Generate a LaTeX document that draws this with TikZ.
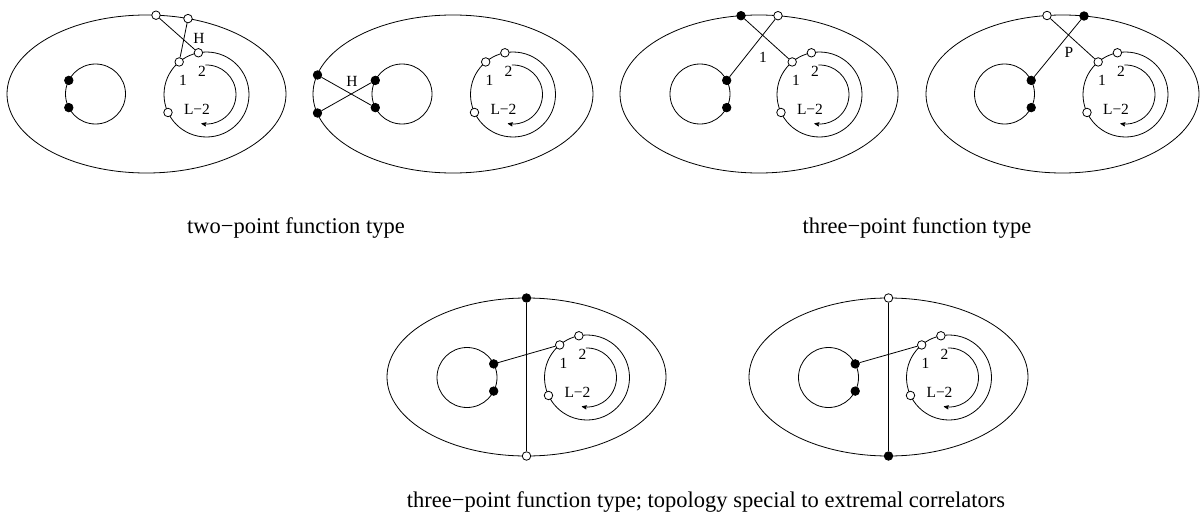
\documentclass[tikz,border=0pt]{standalone}
\usepackage{fontspec}
\setmainfont{Liberation Serif}
\usepackage{tikz}
\usetikzlibrary{shapes,arrows}
\usetikzlibrary{calc}
\tikzstyle{wdot} = [draw, fill=white, circle, inner sep=0pt, minimum size=8.5pt]
\tikzstyle{bdot} = [draw, fill=black, circle, inner sep=0pt, minimum size=8.5pt]
\tikzstyle{lbl} = [font=\fontsize{15.5}{17}\selectfont, inner sep=0pt]
\tikzstyle{caption} = [font=\fontsize{22.5}{26}\selectfont, inner sep=0pt]

\begin{document}
\begin{tikzpicture}[x=1pt, y=1pt, >=stealth', line width=0.8pt]
    \useasboundingbox (0,0) rectangle (1200,-514);
    % two-point, first
    \draw (146.5,-94) ellipse (139.5 and 79);
    \draw (95.5,-94) circle (30);
    \coordinate (ra) at (206.5,-94.5);
    \draw (ra) circle (42.5);
    \draw [->] ($(ra)+(92:29.5)$) arc (92:-100:29.5);
    \node [bdot] (aup) at (68.8,-80.4) {};
    \node [bdot] (adn) at (68.8,-107.6) {};
    \node [wdot] (a1) at ($(ra)+(130:42.5)$) {};
    \node [wdot] (a2) at ($(ra)+(101:42.5)$) {};
    \node [wdot] (aL) at ($(ra)+(205:42.5)$) {};
    \node [wdot] (at1) at (156,-15.2) {};
    \node [wdot] (at2) at (188,-18.6) {};
    \draw (at1) -- (a2);
    \draw (at2) -- (a1);
    \node [lbl] (la1) at ($(ra)+(-23.5,14.5)$) {1};
    \node [lbl] (la2) at ($(ra)+(-4.5,23.5)$) {2};
    \node [lbl] (laL) at ($(ra)+(-9.5,-15)$) {L−2};
    \node [lbl] (laH) at (199,-38) {H};
    % two-point, second
    \draw (453,-94) ellipse (140 and 79);
    \draw (402,-94) circle (30);
    \coordinate (rb) at (513,-94.5);
    \draw (rb) circle (42.5);
    \draw [->] ($(rb)+(92:29.5)$) arc (92:-100:29.5);
    \node [bdot] (bup) at (375.3,-80.4) {};
    \node [bdot] (bdn) at (375.3,-107.6) {};
    \node [wdot] (b1) at ($(rb)+(130:42.5)$) {};
    \node [wdot] (b2) at ($(rb)+(101:42.5)$) {};
    \node [wdot] (bL) at ($(rb)+(205:42.5)$) {};
    \node [bdot] (bl1) at (317.5,-75) {};
    \node [bdot] (bl2) at (317.5,-113) {};
    \draw (bl1) -- (bdn);
    \draw (bl2) -- (bup);
    \node [lbl] (lb1) at ($(rb)+(-23.5,14.5)$) {1};
    \node [lbl] (lb2) at ($(rb)+(-4.5,23.5)$) {2};
    \node [lbl] (lbL) at ($(rb)+(-9.5,-15)$) {L−2};
    \node [lbl] (lbH) at (352,-81) {H};
    % three-point, first
    \draw (759,-94) ellipse (139 and 79);
    \draw (700,-94) circle (30);
    \coordinate (rc) at (819.5,-94.5);
    \draw (rc) circle (42.5);
    \draw [->] ($(rc)+(92:29.5)$) arc (92:-100:29.5);
    \node [bdot] (cup) at (726.7,-80.4) {};
    \node [bdot] (cdn) at (726.7,-107.6) {};
    \node [wdot] (c1) at ($(rc)+(130:42.5)$) {};
    \node [wdot] (c2) at ($(rc)+(101:42.5)$) {};
    \node [wdot] (cL) at ($(rc)+(205:42.5)$) {};
    \node [bdot] (ct1) at (741,-15.7) {};
    \node [wdot] (ct2) at (778,-15.7) {};
    \draw (ct1) -- (c1);
    \draw (ct2) -- (cup);
    \node [lbl] (lc1) at ($(rc)+(-23.5,14.5)$) {1};
    \node [lbl] (lc2) at ($(rc)+(-4.5,23.5)$) {2};
    \node [lbl] (lcL) at ($(rc)+(-9.5,-15)$) {L−2};
    \node [lbl] (lcX) at (763,-57) {1};
    % three-point, second
    \draw (1062.5,-94) ellipse (136.5 and 79);
    \draw (1004.5,-94) circle (30);
    \coordinate (rd) at (1125.5,-94.5);
    \draw (rd) circle (42.5);
    \draw [->] ($(rd)+(92:29.5)$) arc (92:-100:29.5);
    \node [bdot] (dup) at (1031.2,-80.4) {};
    \node [bdot] (ddn) at (1031.2,-107.6) {};
    \node [wdot] (d1) at ($(rd)+(130:42.5)$) {};
    \node [wdot] (d2) at ($(rd)+(101:42.5)$) {};
    \node [wdot] (dL) at ($(rd)+(205:42.5)$) {};
    \node [wdot] (dt1) at (1047,-15.5) {};
    \node [bdot] (dt2) at (1084,-16) {};
    \draw (dt1) -- (d1);
    \draw (dt2) -- (dup);
    \node [lbl] (ld1) at ($(rd)+(-23.5,14.5)$) {1};
    \node [lbl] (ld2) at ($(rd)+(-4.5,23.5)$) {2};
    \node [lbl] (ldL) at ($(rd)+(-9.5,-15)$) {L−2};
    \node [lbl] (ldP) at (1069,-52) {P};
    % extremal, first
    \draw (526.5,-377) ellipse (139.5 and 79);
    \draw (467,-377.5) circle (30);
    \coordinate (re) at (587,-377.5);
    \draw (re) circle (42.5);
    \draw [->] ($(re)+(92:29.5)$) arc (92:-100:29.5);
    \node [bdot] (eup) at (493.7,-363.9) {};
    \node [bdot] (edn) at (493.7,-391.1) {};
    \node [wdot] (e1) at ($(re)+(130:42.5)$) {};
    \node [wdot] (e2) at ($(re)+(101:42.5)$) {};
    \node [wdot] (eL) at ($(re)+(205:42.5)$) {};
    \node [bdot] (et) at (526.5,-298) {};
    \node [wdot] (eb) at (526.5,-456) {};
    \draw (et) -- (eb);
    \draw (eup) -- (e1);
    \node [lbl] (le1) at ($(re)+(-23.5,14.5)$) {1};
    \node [lbl] (le2) at ($(re)+(-4.5,23.5)$) {2};
    \node [lbl] (leL) at ($(re)+(-9.5,-15)$) {L−2};
    % extremal, second
    \draw (888.5,-377) ellipse (139.5 and 79);
    \draw (828.5,-377.5) circle (30);
    \coordinate (rf) at (949,-377.5);
    \draw (rf) circle (42.5);
    \draw [->] ($(rf)+(92:29.5)$) arc (92:-100:29.5);
    \node [bdot] (fup) at (855.2,-363.9) {};
    \node [bdot] (fdn) at (855.2,-391.1) {};
    \node [wdot] (f1) at ($(rf)+(130:42.5)$) {};
    \node [wdot] (f2) at ($(rf)+(101:42.5)$) {};
    \node [wdot] (fL) at ($(rf)+(205:42.5)$) {};
    \node [wdot] (ft) at (888.5,-298) {};
    \node [bdot] (fb) at (888.5,-456) {};
    \draw (ft) -- (fb);
    \draw (fup) -- (f1);
    \node [lbl] (lf1) at ($(rf)+(-23.5,14.5)$) {1};
    \node [lbl] (lf2) at ($(rf)+(-4.5,23.5)$) {2};
    \node [lbl] (lfL) at ($(rf)+(-9.5,-15)$) {L−2};
    % captions
    \node [caption] (cap2) at (296,-228) {two−point function type};
    \node [caption] (cap3) at (917,-228) {three−point function type};
    \node [caption] (capx) at (706,-502) {three−point function type; topology special to extremal correlators};
\end{tikzpicture}
\end{document}
